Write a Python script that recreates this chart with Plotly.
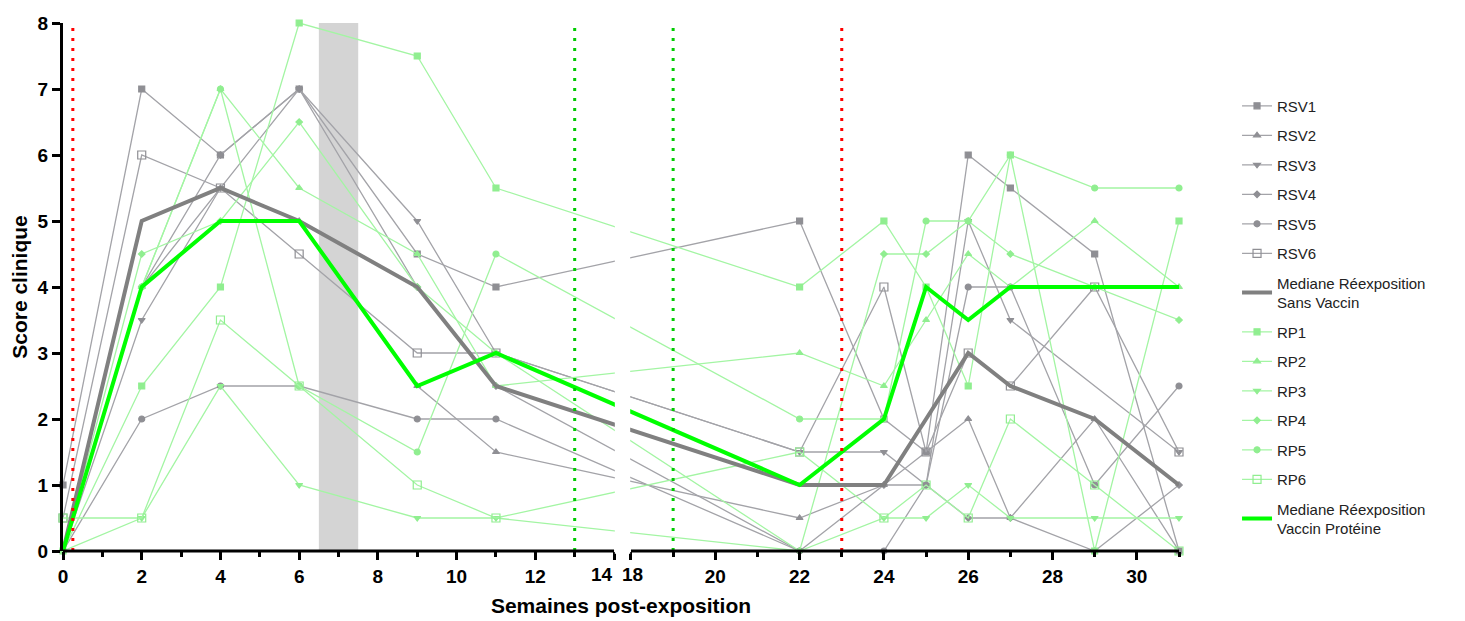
import plotly.graph_objects as go

# semaines de mesure (axe coupé entre 14 et 18)
weeks = [0, 2, 4, 6, 9, 11, 22, 24, 25, 26, 27, 29, 31]

# groupe réexposition sans vaccin
rsv1 = [1, 7, 6, 7, 4.5, 4, 5, 2, 1.5, 6, 5.5, 4.5, 0]
rsv2 = [0, 4, 5.5, 5, 2.5, 1.5, 0.5, 1, 1.5, 2, 0.5, 2, 0]
rsv3 = [0, 3.5, 5.5, 7, 5, 3, 1.5, 1.5, 1, 5, 3.5, None, 1.5]
rsv4 = [0, 4, 6, 7, 4, 2.5, 0, 1, 1, 0.5, 0.5, 0, 1]
rsv5 = [0, 2, 2.5, 2.5, 2, 2, 0, 0, 1, 4, 4, 1, 2.5]
rsv6 = [0.5, 6, 5.5, 4.5, 3, 3, 1.5, 4, 1.5, 3, 2.5, 4, 1.5]
med_rsv = [0, 5, 5.5, 5, 4, 2.5, 1, 1, 2, 3, 2.5, 2, 1]

# groupe réexposition vaccin protéine
rp1 = [0, 2.5, 4, 8, 7.5, 5.5, 4, 5, 4, 2.5, 6, 0, 5]
rp2 = [0, 4, 7, 5.5, 4.5, 2.5, 3, 2.5, 3.5, 4.5, 4, 5, 4]
rp3 = [0, 0.5, 2.5, 1, 0.5, 0.5, 0, 0.5, 0.5, 1, 0.5, 0.5, 0.5]
rp4 = [0, 4.5, 5, 6.5, 4, 3, 0, 4.5, 4.5, 5, 4.5, 4, 3.5]
rp5 = [0, 4, 7, 2.5, 1.5, 4.5, 2, 2, 5, 5, 6, 5.5, 5.5]
rp6 = [0.5, 0.5, 3.5, 2.5, 1, 0.5, 1.5, 0.5, 1, 0.5, 2, 1, 0]
med_rp = [0, 4, 5, 5, 2.5, 3, 1, 2, 4, 3.5, 4, 4, 4]

left_ticks = [0, 2, 4, 6, 8, 10, 12, 14]
right_ticks = [18, 20, 22, 24, 26, 28, 30]
left_minor = [1, 3, 5, 7, 9, 11, 13]
right_minor = [19, 21, 23, 25, 27, 29, 31]
red_lines = [0.25, 23]
green_lines = [13, 19]
band = [6.5, 7.5]

# axe coupé: on passe de 14 à 18, échelle un peu plus large à droite
BREAK_LO, BREAK_HI = 14, 18
GAP = 0.43
RIGHT_SCALE = 1.071


def xb(t):
    if t <= BREAK_LO:
        return t
    return BREAK_LO + GAP + (t - BREAK_HI) * RIGHT_SCALE


X = [xb(t) for t in weeks]
XMAX = xb(31)

FONT = "Liberation Sans, Arial, sans-serif"
GREY_LINE = "#a3a3a8"
GREY_MK = "#8f8f94"
GREEN_LINE = "#a3f5a3"
GREEN_MK = "#90ee90"

symbols = ["square", "triangle-up", "triangle-down", "diamond", "circle", "square-open"]
sizes = [6, 6, 6, 5, 6, 8]

fig = go.Figure()

rank = 1
for i, ys in enumerate([rsv1, rsv2, rsv3, rsv4, rsv5, rsv6]):
    fig.add_trace(go.Scatter(
        x=X, y=ys, mode="lines+markers", name=f"RSV{i + 1}",
        line=dict(color=GREY_LINE, width=1.3),
        marker=dict(symbol=symbols[i], size=sizes[i], color=GREY_MK,
                    line=dict(color=GREY_MK, width=1.2)),
        connectgaps=True, cliponaxis=False, legendrank=rank, legendgroup=f"g{rank}"))
    rank += 1
rank += 1  # place pour la médiane grise
for i, ys in enumerate([rp1, rp2, rp3, rp4, rp5, rp6]):
    fig.add_trace(go.Scatter(
        x=X, y=ys, mode="lines+markers", name=f"RP{i + 1}",
        line=dict(color=GREEN_LINE, width=1.3),
        marker=dict(symbol=symbols[i], size=sizes[i], color=GREEN_MK,
                    line=dict(color=GREEN_MK, width=1.2)),
        connectgaps=True, cliponaxis=False, legendrank=rank, legendgroup=f"g{rank}"))
    rank += 1

fig.add_trace(go.Scatter(
    x=X, y=med_rsv, mode="lines", name="Mediane Réexposition<br>Sans Vaccin",
    line=dict(color="#808080", width=4), legendrank=7, legendgroup="g7"))
fig.add_trace(go.Scatter(
    x=X, y=med_rp, mode="lines", name="Mediane Réexposition<br>Vaccin Protéine",
    line=dict(color="#00ff00", width=4), legendrank=14, legendgroup="g14"))

shapes = []
# bande grise
shapes.append(dict(type="rect", xref="x", yref="y", x0=band[0], x1=band[1], y0=0, y1=8,
                   fillcolor="#d4d4d4", line=dict(width=0), layer="below"))
for v in red_lines:
    shapes.append(dict(type="line", xref="x", yref="y", x0=xb(v), x1=xb(v), y0=0, y1=8,
                       line=dict(color="#ff0000", width=3, dash="3px,7px"), layer="above"))
for v in green_lines:
    shapes.append(dict(type="line", xref="x", yref="y", x0=xb(v), x1=xb(v), y0=0, y1=8,
                       line=dict(color="#00cc00", width=3, dash="3px,7px"), layer="above"))
# coupure de l'axe: masque blanc + deux morceaux d'axe
shapes.append(dict(type="rect", xref="x", yref="paper", x0=BREAK_LO + 0.02, x1=xb(BREAK_HI) - 0.02,
                   y0=-0.005, y1=1.02, fillcolor="white", line=dict(width=0), layer="above"))
shapes.append(dict(type="line", xref="x", yref="paper", x0=0, x1=BREAK_LO, y0=0, y1=0,
                   line=dict(color="black", width=3), layer="above"))
shapes.append(dict(type="line", xref="x", yref="paper", x0=xb(BREAK_HI), x1=XMAX, y0=0, y1=0,
                   line=dict(color="black", width=3), layer="above"))

all_ticks = left_ticks + right_ticks
tickvals = [xb(t) for t in all_ticks]
# 14 et 18 sont collés de part et d'autre de la coupure: posés en annotations
ticktext = ["" if t in (BREAK_LO, BREAK_HI) else str(t) for t in all_ticks]
minorvals = [xb(t) for t in left_minor + right_minor]

tick_font = dict(family=FONT, size=19, weight="bold", color="black")
title_font = dict(family=FONT, size=21, weight="bold", color="black")
annotations = [
    dict(x=BREAK_LO, y=0, xref="x", yref="paper", text=str(BREAK_LO), showarrow=False,
         xanchor="right", yanchor="top", xshift=1, yshift=-11, font=tick_font),
    dict(x=xb(BREAK_HI), y=0, xref="x", yref="paper", text=str(BREAK_HI), showarrow=False,
         xanchor="left", yanchor="top", xshift=-11, yshift=-11, font=tick_font),
]

# la page html ajoute 8px de marge autour du graphique: on compense ici
fig.update_layout(
    width=1457, height=613,
    margin=dict(l=55, r=286, t=15, b=70),
    plot_bgcolor="white", paper_bgcolor="white",
    font=dict(family=FONT, color="black"),
    shapes=shapes,
    annotations=annotations,
    showlegend=True,
    legend=dict(x=1.052, y=0.874, xanchor="left", yanchor="top",
                font=dict(family=FONT, size=15, color="#222222"),
                tracegroupgap=7, bgcolor="rgba(0,0,0,0)"),
    xaxis=dict(
        range=[0, XMAX], showgrid=False, zeroline=False, showline=False,
        automargin=False, tickangle=0,
        tickmode="array", tickvals=tickvals, ticktext=ticktext,
        ticks="outside", ticklen=8, tickwidth=3, tickcolor="black",
        minor=dict(tickmode="array", tickvals=minorvals, ticks="outside",
                   ticklen=5, tickwidth=3, tickcolor="black"),
        tickfont=tick_font,
        title=dict(text="Semaines post-exposition", standoff=12, font=title_font),
    ),
    yaxis=dict(
        range=[0, 8], showgrid=False, zeroline=False, automargin=False,
        showline=True, linewidth=3, linecolor="black",
        tickmode="array", tickvals=list(range(9)),
        ticks="outside", ticklen=8, tickwidth=3, tickcolor="black",
        tickfont=tick_font,
        title=dict(text="Score clinique", standoff=6, font=title_font),
    ),
)

fig.write_html("out.html")
